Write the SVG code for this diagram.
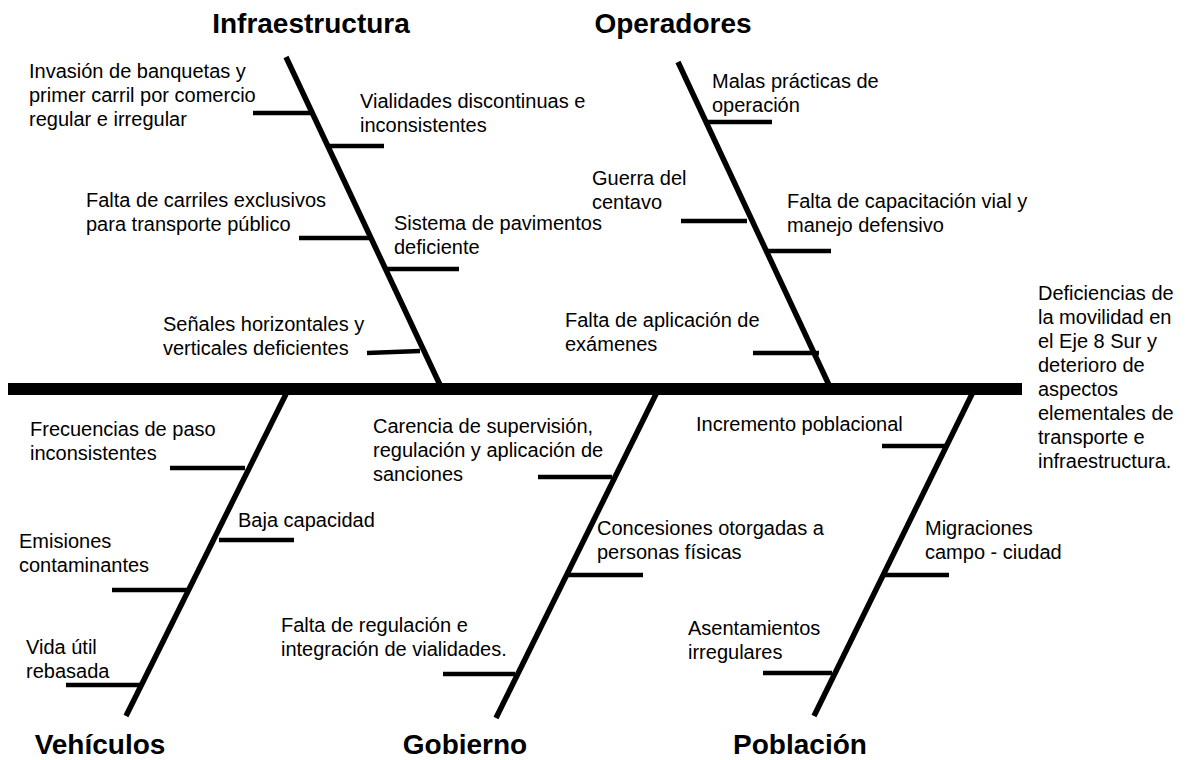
<svg xmlns="http://www.w3.org/2000/svg" width="1192" height="760" viewBox="0 0 1192 760">
<style>
text{font-family:"Liberation Sans",Arial,sans-serif;fill:#000}
.t{font-size:20px}
.h{font-size:28px;font-weight:bold;text-anchor:middle}
.spine{stroke:#000;stroke-width:12;fill:none}
.bone{stroke:#000;stroke-width:5.5;fill:none}
.rib{stroke:#000;stroke-width:4.5;fill:none}
</style>
<rect width="1192" height="760" fill="#fff"/>
<g id="connectors">
<line class="spine" x1="8" y1="389" x2="1022" y2="389"/>
<line class="bone" x1="286" y1="57" x2="440" y2="385"/>
<line class="bone" x1="678" y1="62" x2="829" y2="385"/>
<line class="bone" x1="287" y1="392" x2="126" y2="716"/>
<line class="bone" x1="657" y1="392" x2="496" y2="718"/>
<line class="bone" x1="973" y1="392" x2="814" y2="716"/>
</g>
<g id="effect">
<text class="t" x="1038"><tspan x="1038" y="300">Deficiencias  de</tspan><tspan x="1038" y="324">la movilidad en</tspan><tspan x="1038" y="348">el Eje 8 Sur y</tspan><tspan x="1038" y="372">deterioro de</tspan><tspan x="1038" y="396">aspectos</tspan><tspan x="1038" y="420">elementales de</tspan><tspan x="1038" y="444">transporte e</tspan><tspan x="1038" y="468">infraestructura.</tspan></text>
</g>
<g id="infraestructura">
<text class="h" x="311" y="33">Infraestructura</text>
<line class="rib" x1="253" y1="113" x2="311" y2="113"/>
<line class="rib" x1="329" y1="146" x2="384" y2="146"/>
<line class="rib" x1="299" y1="238" x2="369" y2="238"/>
<line class="rib" x1="387" y1="269" x2="459" y2="269"/>
<line class="rib" x1="367" y1="353" x2="420" y2="351"/>
<text class="t"><tspan x="29" y="78">Invasión de banquetas y</tspan><tspan x="29" y="102">primer carril por comercio</tspan><tspan x="29" y="126">regular e irregular</tspan></text>
<text class="t"><tspan x="360" y="108">Vialidades discontinuas e</tspan><tspan x="360" y="132">inconsistentes</tspan></text>
<text class="t"><tspan x="86" y="207">Falta de carriles exclusivos</tspan><tspan x="86" y="231">para transporte público</tspan></text>
<text class="t"><tspan x="394" y="230">Sistema de pavimentos</tspan><tspan x="394" y="254">deficiente</tspan></text>
<text class="t"><tspan x="163" y="331">Señales horizontales y</tspan><tspan x="163" y="355">verticales deficientes</tspan></text>
</g>
<g id="operadores">
<text class="h" x="673" y="33">Operadores</text>
<line class="rib" x1="708" y1="122" x2="772" y2="122"/>
<line class="rib" x1="681" y1="221" x2="747" y2="221"/>
<line class="rib" x1="767" y1="251" x2="831" y2="251"/>
<line class="rib" x1="753" y1="353" x2="819" y2="353"/>
<text class="t"><tspan x="712" y="88">Malas prácticas de</tspan><tspan x="712" y="112">operación</tspan></text>
<text class="t"><tspan x="592" y="185">Guerra del</tspan><tspan x="592" y="209">centavo</tspan></text>
<text class="t"><tspan x="787" y="208">Falta de capacitación vial y</tspan><tspan x="787" y="232">manejo defensivo</tspan></text>
<text class="t"><tspan x="565" y="327">Falta de aplicación de</tspan><tspan x="565" y="351">exámenes</tspan></text>
</g>
<g id="vehiculos">
<text class="h" x="100" y="754">Vehículos</text>
<line class="rib" x1="170" y1="468" x2="245" y2="468"/>
<line class="rib" x1="219" y1="540" x2="294" y2="540"/>
<line class="rib" x1="112" y1="590" x2="188" y2="590"/>
<line class="rib" x1="66" y1="685" x2="140" y2="685"/>
<text class="t"><tspan x="30" y="436">Frecuencias de paso</tspan><tspan x="30" y="460">inconsistentes</tspan></text>
<text class="t" x="238" y="527">Baja capacidad</text>
<text class="t"><tspan x="19" y="548">Emisiones</tspan><tspan x="19" y="572">contaminantes</tspan></text>
<text class="t"><tspan x="26" y="654">Vida útil</tspan><tspan x="26" y="678">rebasada</tspan></text>
</g>
<g id="gobierno">
<text class="h" x="465" y="754">Gobierno</text>
<line class="rib" x1="538" y1="477" x2="612" y2="477"/>
<line class="rib" x1="566" y1="575" x2="643" y2="575"/>
<line class="rib" x1="443" y1="674" x2="515" y2="674"/>
<text class="t"><tspan x="373" y="433">Carencia de supervisión,</tspan><tspan x="373" y="457">regulación y aplicación de</tspan><tspan x="373" y="481">sanciones</tspan></text>
<text class="t"><tspan x="597" y="535">Concesiones otorgadas a</tspan><tspan x="597" y="559">personas físicas</tspan></text>
<text class="t"><tspan x="281" y="632">Falta de regulación e</tspan><tspan x="281" y="656">integración de vialidades.</tspan></text>
</g>
<g id="poblacion">
<text class="h" x="800" y="754">Población</text>
<line class="rib" x1="882" y1="446" x2="946" y2="446"/>
<line class="rib" x1="885" y1="575" x2="949" y2="575"/>
<line class="rib" x1="763" y1="673" x2="832" y2="673"/>
<text class="t" x="696" y="431">Incremento poblacional</text>
<text class="t"><tspan x="925" y="535">Migraciones</tspan><tspan x="925" y="559">campo - ciudad</tspan></text>
<text class="t"><tspan x="688" y="635">Asentamientos</tspan><tspan x="688" y="659">irregulares</tspan></text>
</g>
</svg>
